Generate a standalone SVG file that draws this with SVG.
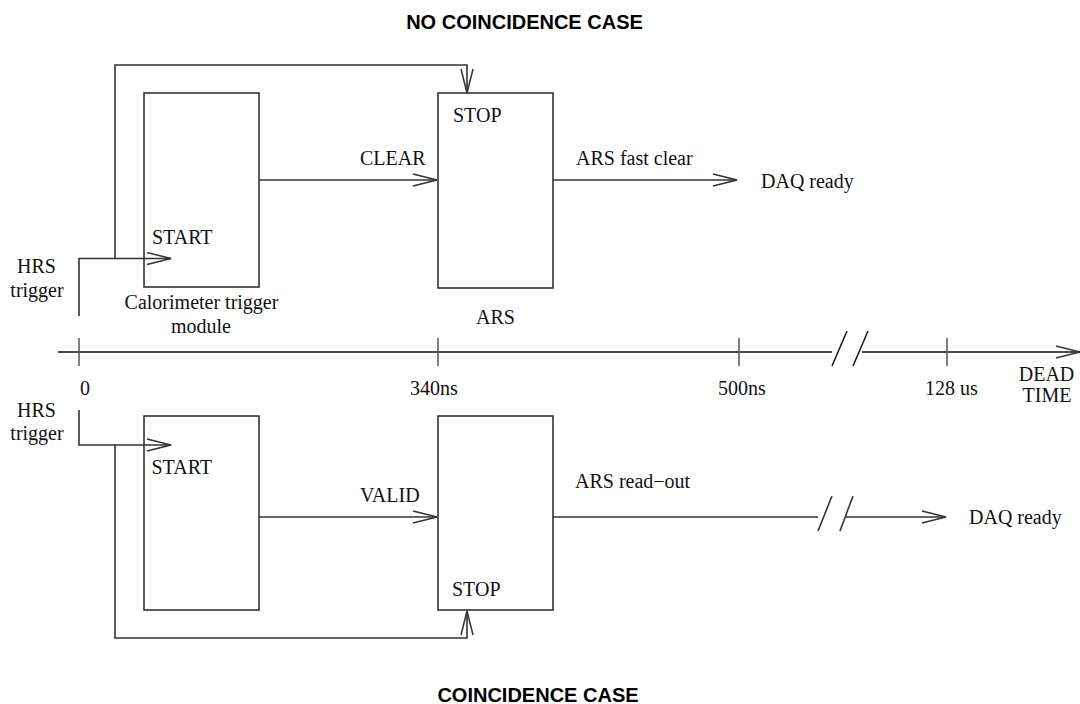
<svg xmlns="http://www.w3.org/2000/svg" width="1080" height="704" viewBox="0 0 1080 704">
<defs>
<marker id="arr" viewBox="0 0 26 14" refX="25" refY="7" markerWidth="26" markerHeight="14" markerUnits="userSpaceOnUse" orient="auto">
<path d="M1,1 L25,7 L1,13" fill="none" stroke="#333" stroke-width="1.5"/>
</marker>
</defs>
<style>
.box{fill:none;stroke:#333;stroke-width:1.6}
.ln{fill:none;stroke:#333;stroke-width:1.6}
.ax{fill:none;stroke:#111;stroke-width:1.5}
.tk{fill:none;stroke:#555;stroke-width:1.5}
.t{font-family:"Liberation Serif","Times New Roman",serif;font-size:20px;fill:#111}
.m{text-anchor:middle}
.h{font-family:"Liberation Sans",Arial,sans-serif;font-size:20px;font-weight:bold;fill:#000;text-anchor:middle}
</style>
<rect width="1080" height="704" fill="#fff"/>

<text class="h" x="524.5" y="29">NO COINCIDENCE CASE</text>
<text class="h" x="538" y="702">COINCIDENCE CASE</text>

<g id="calo-top">
<rect class="box" x="144" y="93" width="115" height="194"/>
<text class="t" x="152" y="244">START</text>
<text class="t m" x="201.5" y="309">Calorimeter trigger</text>
<text class="t m" x="201" y="333">module</text>
</g>
<g id="ars-top">
<rect class="box" x="438" y="93" width="115" height="195"/>
<text class="t" x="453" y="122">STOP</text>
<text class="t m" x="495.5" y="324">ARS</text>
</g>
<g id="hrs-top">
<text class="t m" x="36.5" y="273">HRS</text>
<text class="t m" x="37" y="297">trigger</text>
</g>
<g id="daq-top">
<text class="t" x="761" y="188">DAQ ready</text>
</g>

<g id="calo-bottom">
<rect class="box" x="144" y="416" width="115" height="194"/>
<text class="t" x="151.5" y="474">START</text>
</g>
<g id="ars-bottom">
<rect class="box" x="438" y="416" width="115" height="194"/>
<text class="t" x="452" y="596">STOP</text>
</g>
<g id="hrs-bottom">
<text class="t m" x="36.5" y="417">HRS</text>
<text class="t m" x="37" y="440">trigger</text>
</g>
<g id="daq-bottom">
<text class="t" x="969" y="524">DAQ ready</text>
</g>

<g id="axis">
<line class="ax" x1="58" y1="352" x2="832" y2="352"/>
<line class="ax" x1="862" y1="352" x2="1080" y2="352" marker-end="url(#arr)"/>
<line class="ax" x1="832" y1="366" x2="847" y2="331"/>
<line class="ax" x1="853" y1="366" x2="868" y2="331"/>
<line class="tk" x1="79" y1="338" x2="79" y2="366"/>
<line class="tk" x1="438" y1="338" x2="438" y2="366"/>
<line class="tk" x1="739" y1="338" x2="739" y2="366"/>
<line class="tk" x1="947" y1="338" x2="947" y2="366"/>
<text class="t" x="80" y="395">0</text>
<text class="t m" x="434" y="395">340ns</text>
<text class="t m" x="742" y="395">500ns</text>
<text class="t m" x="951.5" y="395">128 us</text>
<text class="t m" x="1046.5" y="381">DEAD</text>
<text class="t m" x="1047" y="402">TIME</text>
</g>

<g id="connectors">
<polyline class="ln" points="79,316 79,258.5 171,258.5" marker-end="url(#arr)"/>
<polyline class="ln" points="115,258.5 115,65 467,65 467,93" marker-end="url(#arr)"/>
<line class="ln" x1="259" y1="180" x2="437" y2="180" marker-end="url(#arr)"/>
<text class="t" x="360" y="165">CLEAR</text>
<line class="ln" x1="553" y1="180" x2="737" y2="180" marker-end="url(#arr)"/>
<text class="t" x="576" y="165">ARS fast clear</text>

<polyline class="ln" points="79,410 79,445 171,445" marker-end="url(#arr)"/>
<polyline class="ln" points="115,445 115,638 467,638 467,611" marker-end="url(#arr)"/>
<line class="ln" x1="259" y1="517" x2="437" y2="517" marker-end="url(#arr)"/>
<text class="t" x="360" y="502">VALID</text>
<line class="ln" x1="553" y1="517" x2="818" y2="517"/>
<line class="ln" x1="818" y1="531" x2="832" y2="496"/>
<line class="ln" x1="840" y1="531" x2="853" y2="496"/>
<line class="ln" x1="846" y1="517" x2="946" y2="517" marker-end="url(#arr)"/>
<text class="t" x="575" y="488">ARS read−out</text>
</g>
</svg>
